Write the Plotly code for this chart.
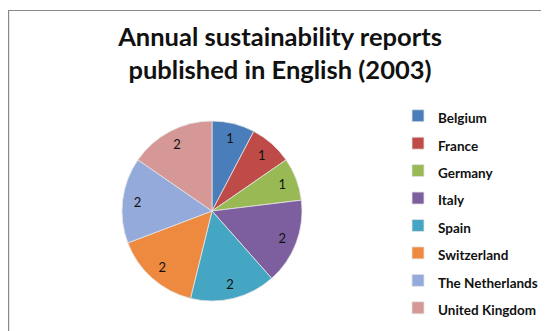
import plotly.graph_objects as go

countries = ["Belgium", "France", "Germany", "Italy", "Spain", "Switzerland",
             "The Netherlands", "United Kingdom"]
reports = [1, 1, 1, 2, 2, 2, 2, 2]
colors = ["#4A7EBB", "#BE4B48", "#98B954", "#7D5FA0", "#45A6C3", "#EE8A40",
          "#94AADA", "#D69797"]
title_lines = ["Annual sustainability reports", "published in English (2003)"]

# figure pixel size (page body has an 8px margin)
W, H = 541, 323
CX, CY, R = 204, 203, 90
dom = dict(x=[(CX - R) / W, (CX + R) / W], y=[(H - CY - R) / H, (H - CY + R) / H])

legend_labels = [f'<span style="font-size:13.5px">{c}</span>' for c in countries]

fig = go.Figure()
# slices
fig.add_trace(go.Pie(
    labels=legend_labels,
    values=reports,
    textinfo="none",
    sort=False,
    direction="clockwise",
    rotation=0,
    marker=dict(colors=colors, line=dict(color="#e4e4e4", width=0.8)),
    domain=dom,
    hoverinfo="label+value",
))
# value labels (transparent ring carrying the data labels near the rim)
fig.add_trace(go.Pie(
    labels=countries,
    values=reports,
    text=[str(v) for v in reports],
    textinfo="text",
    textposition="inside",
    insidetextorientation="horizontal",
    hole=0.67,
    sort=False,
    direction="clockwise",
    rotation=0,
    marker=dict(colors=["rgba(0,0,0,0)"] * len(reports), line=dict(width=0)),
    textfont=dict(family="Lato", size=13, color="#111111"),
    domain=dom,
    showlegend=False,
    hoverinfo="skip",
))

fig.update_layout(
    width=W, height=H,
    margin=dict(l=0, r=0, t=0, b=0, autoexpand=False),
    paper_bgcolor="white",
    plot_bgcolor="white",
    font=dict(family="Lato", color="#111111"),
    title=dict(text="<br>".join(title_lines), x=272 / W, xanchor="center",
               y=1 - 37.7 / H, yanchor="middle",
               font=dict(family="Lato", size=25.5, color="#111111", weight="bold")),
    legend=dict(x=390 / W, xanchor="left", y=1 - 89 / H, yanchor="top",
                font=dict(family="Lato", size=18.8, color="#111111", weight="bold"),
                itemwidth=30, tracegroupgap=0),
    shapes=[dict(type="rect", xref="paper", yref="paper",
                 x0=0.6 / W, x1=1.2, y0=-0.2, y1=1 - 2.5 / H,
                 line=dict(color="#8a8a8a", width=1.2), fillcolor="rgba(0,0,0,0)",
                 layer="below")],
)

fig.write_html("out.html")
